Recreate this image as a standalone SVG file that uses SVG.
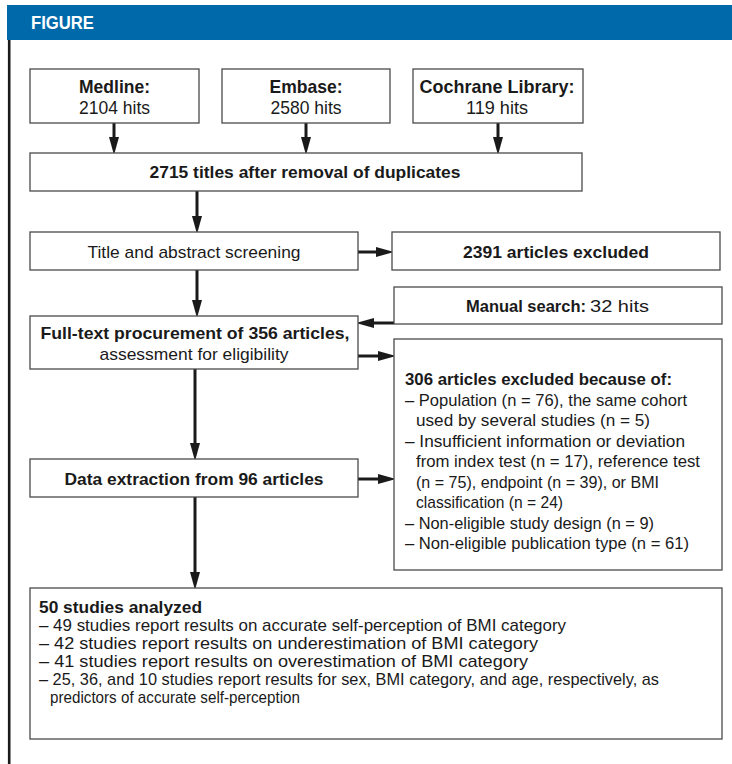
<svg xmlns="http://www.w3.org/2000/svg" width="732" height="764" viewBox="0 0 732 764">
<style>
.box{fill:#fff;stroke:#4a4a4a;stroke-width:1.3}
text{font-family:"Liberation Sans Narrow","Liberation Sans",Arial,sans-serif;fill:#1a1a1a}
.t18{font-size:18.5px}
.t17{font-size:17px}
.b{font-weight:bold}
.c{text-anchor:middle}
.arr{stroke:#1a1a1a;stroke-width:3;fill:none;marker-end:url(#ah)}
</style>
<defs>
<marker id="ah" viewBox="0 0 18 10" refX="8" refY="5" markerWidth="18" markerHeight="10" markerUnits="userSpaceOnUse" orient="auto">
<path d="M0,0 L18,5 L0,10 z" fill="#1a1a1a"/>
</marker>
</defs>
<rect width="732" height="764" fill="#fff"/>
<g id="header">
<rect x="7" y="5" width="725" height="35" fill="#0069aa"/>
<text x="31" y="29" class="b" style="font-size:17.5px;fill:#fff" textLength="63" lengthAdjust="spacingAndGlyphs">FIGURE</text>
<line x1="9.2" y1="40" x2="9.2" y2="764" stroke="#1a1a1a" stroke-width="2.6"/>
</g>
<g id="connectors">
<line class="arr" x1="114" y1="123" x2="114" y2="145"/>
<line class="arr" x1="306" y1="123" x2="306" y2="145"/>
<line class="arr" x1="498" y1="123" x2="498" y2="145"/>
<line class="arr" x1="197" y1="191" x2="197" y2="224"/>
<line class="arr" x1="358" y1="252" x2="384" y2="252"/>
<line class="arr" x1="197" y1="270" x2="197" y2="308"/>
<line class="arr" x1="394" y1="323" x2="366" y2="323"/>
<line class="arr" x1="358" y1="356" x2="386" y2="356"/>
<line class="arr" x1="195" y1="369" x2="195" y2="451"/>
<line class="arr" x1="358" y1="479" x2="386" y2="479"/>
<line class="arr" x1="195" y1="497" x2="195" y2="580"/>
</g>
<g id="medline">
<rect class="box" x="30" y="69" width="169" height="54"/>
<text x="114.5" y="93" class="t18 b c" textLength="71" lengthAdjust="spacingAndGlyphs">Medline:</text>
<text x="114.5" y="114" class="t18 c" textLength="71" lengthAdjust="spacingAndGlyphs">2104 hits</text>
</g>
<g id="embase">
<rect class="box" x="222" y="69" width="168" height="54"/>
<text x="306" y="93" class="t18 b c" textLength="73" lengthAdjust="spacingAndGlyphs">Embase:</text>
<text x="306" y="114" class="t18 c" textLength="71" lengthAdjust="spacingAndGlyphs">2580 hits</text>
</g>
<g id="cochrane">
<rect class="box" x="413" y="69" width="170" height="54"/>
<text x="497" y="93" class="t18 b c" textLength="155" lengthAdjust="spacingAndGlyphs">Cochrane Library:</text>
<text x="497" y="114" class="t18 c" textLength="62" lengthAdjust="spacingAndGlyphs">119 hits</text>
</g>
<g id="dedup">
<rect class="box" x="30" y="153" width="552" height="38"/>
<text x="305" y="178" class="t17 b c" textLength="311" lengthAdjust="spacingAndGlyphs">2715 titles after removal of duplicates</text>
</g>
<g id="screening">
<rect class="box" x="30" y="232" width="328" height="38"/>
<text x="194" y="258" class="t17 c" textLength="213" lengthAdjust="spacingAndGlyphs">Title and abstract screening</text>
</g>
<g id="excluded1">
<rect class="box" x="392" y="232" width="328" height="38"/>
<text x="556" y="258" class="t17 b c" textLength="186" lengthAdjust="spacingAndGlyphs">2391 articles excluded</text>
</g>
<g id="manual">
<rect class="box" x="394" y="287" width="328" height="37"/>
<text y="312" class="t17"><tspan x="466" class="b" textLength="120" lengthAdjust="spacingAndGlyphs">Manual search:</tspan><tspan x="590" textLength="59" lengthAdjust="spacingAndGlyphs">32 hits</tspan></text>
</g>
<g id="fulltext">
<rect class="box" x="30" y="316" width="328" height="53"/>
<text x="195" y="339" class="t17 b c" textLength="309" lengthAdjust="spacingAndGlyphs">Full-text procurement of 356 articles,</text>
<text x="194" y="360" class="t17 c" textLength="189" lengthAdjust="spacingAndGlyphs">assessment for eligibility</text>
</g>
<g id="excluded2">
<rect class="box" x="394" y="339" width="328" height="231"/>
<text x="405" y="385" class="t17 b" textLength="267" lengthAdjust="spacingAndGlyphs">306 articles excluded because of:</text>
<text x="405" y="405.5" class="t17" textLength="282" lengthAdjust="spacingAndGlyphs">– Population (n = 76), the same cohort</text>
<text x="416" y="426" class="t17" textLength="234" lengthAdjust="spacingAndGlyphs">used by several studies (n = 5)</text>
<text x="405" y="446.5" class="t17" textLength="280" lengthAdjust="spacingAndGlyphs">– Insufficient information or deviation</text>
<text x="416" y="467" class="t17" textLength="284" lengthAdjust="spacingAndGlyphs">from index test (n = 17), reference test</text>
<text x="416" y="487.5" class="t17" textLength="243" lengthAdjust="spacingAndGlyphs">(n = 75), endpoint (n = 39), or BMI</text>
<text x="416" y="508" class="t17" textLength="147" lengthAdjust="spacingAndGlyphs">classification (n = 24)</text>
<text x="405" y="528.5" class="t17" textLength="249" lengthAdjust="spacingAndGlyphs">– Non-eligible study design (n = 9)</text>
<text x="405" y="549" class="t17" textLength="284" lengthAdjust="spacingAndGlyphs">– Non-eligible publication type (n = 61)</text>
</g>
<g id="extraction">
<rect class="box" x="30" y="459" width="328" height="38"/>
<text x="194" y="485" class="t17 b c" textLength="259" lengthAdjust="spacingAndGlyphs">Data extraction from 96 articles</text>
</g>
<g id="analyzed">
<rect class="box" x="30" y="588" width="692" height="151"/>
<text x="39" y="613" class="t17 b" textLength="163" lengthAdjust="spacingAndGlyphs">50 studies analyzed</text>
<text x="39" y="631" class="t17" textLength="527" lengthAdjust="spacingAndGlyphs">– 49 studies report results on accurate self-perception of BMI category</text>
<text x="39" y="649" class="t17" textLength="499" lengthAdjust="spacingAndGlyphs">– 42 studies report results on underestimation of BMI category</text>
<text x="39" y="667" class="t17" textLength="489" lengthAdjust="spacingAndGlyphs">– 41 studies report results on overestimation of BMI category</text>
<text x="39" y="685" class="t17" textLength="620" lengthAdjust="spacingAndGlyphs">– 25, 36, and 10 studies report results for sex, BMI category, and age, respectively, as</text>
<text x="50" y="703" class="t17" textLength="250" lengthAdjust="spacingAndGlyphs">predictors of accurate self-perception</text>
</g>
</svg>
